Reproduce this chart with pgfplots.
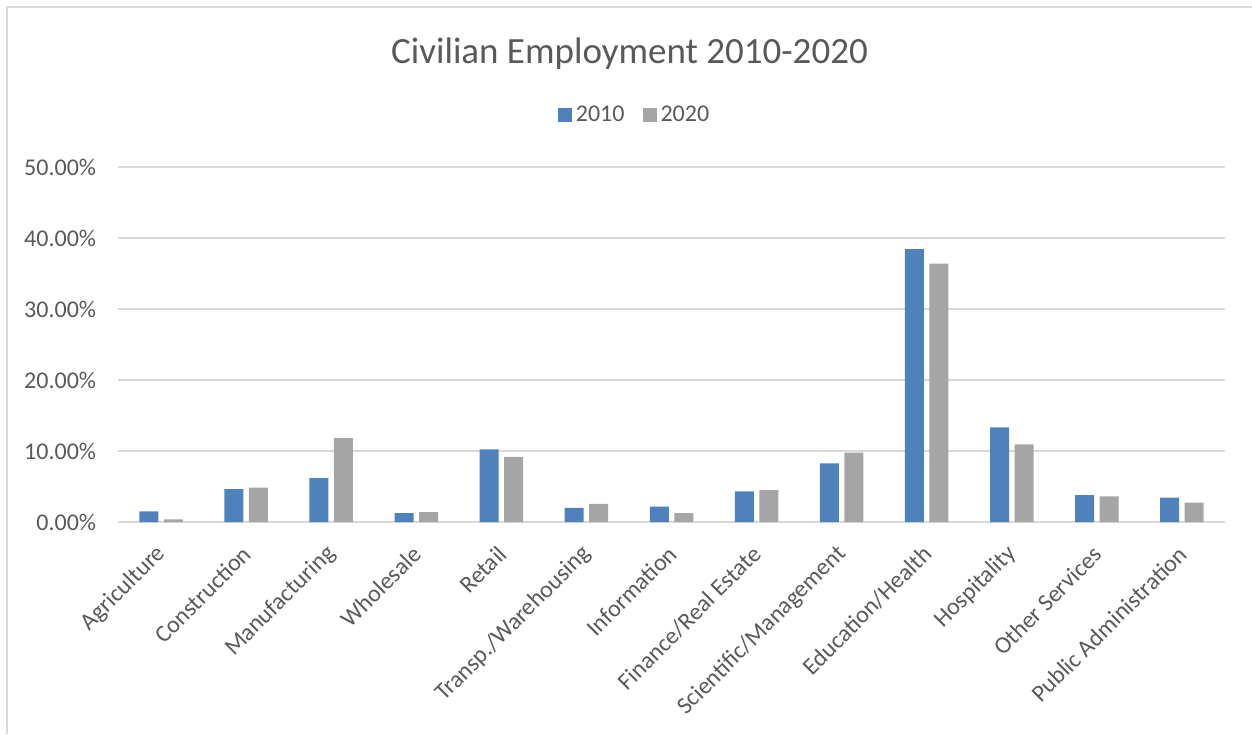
\documentclass[border=0pt]{standalone}
\usepackage{pgfplots}
\pgfplotsset{compat=1.18}
\usepackage{fontspec}
\setmainfont{Carlito}
\definecolor{blueA}{HTML}{4F81BD}
\definecolor{grayA}{HTML}{A5A5A5}
\definecolor{txt}{HTML}{595959}
\definecolor{gridc}{HTML}{D9D9D9}
\begin{document}
\begin{tikzpicture}[x=1pt,y=1pt]
\path[use as bounding box] (0,0) rectangle (626,-367);
\draw[gridc, line width=0.75pt] (3.5,-367) -- (3.5,-3.5) -- (626,-3.5);
\node[text=txt, font=\fontsize{18.5}{22}\selectfont, anchor=base] at (314.75,-31.5) {Civilian Employment 2010-2020};
\begin{axis}[
  at={(59.25pt,-261pt)}, anchor=south west,
  scale only axis, width=553pt, height=177.5pt,
  xmin=-0.5, xmax=12.5, ymin=0, ymax=50, enlargelimits=false,
  ybar=2.75pt, bar width=9.5pt,
  axis x line=bottom, axis y line=left,
  y axis line style={draw=none},
  x axis line style={draw=gridc, line width=0.75pt, -},
  ymajorgrids, grid style={draw=gridc, line width=0.75pt},
  major tick length=0pt,
  xtick={0,...,12},
  xticklabels={Agriculture,Construction,Manufacturing,Wholesale,Retail,Transp./Warehousing,Information,Finance/Real Estate,Scientific/Management,Education/Health,Hospitality,Other Services,Public Administration},
  ytick={0,10,20,30,40,50},
  yticklabels={0.00\%,10.00\%,20.00\%,30.00\%,40.00\%,50.00\%},
  yticklabel style={font=\fontsize{12}{14}\selectfont, text=txt, inner sep=0pt, xshift=-11pt},
  xticklabel style={font=\fontsize{12}{14}\selectfont, text=txt, inner sep=0pt, xshift=0.5pt, yshift=-14pt, rotate=45, anchor=east},
  legend style={at={(0.4675,1.1465)}, anchor=center, draw=none, fill=none, font=\fontsize{12}{14}\selectfont, text=txt, /tikz/every even column/.append style={column sep=7pt}},
  legend columns=2,
]
\addplot[fill=blueA, draw=none, legend image code/.code={\fill[blueA] (0pt,-3.5pt) rectangle (7pt,3.5pt);}] coordinates {
(0,1.49) (1,4.63) (2,6.17) (3,1.26) (4,10.24) (5,2.0) (6,2.15) (7,4.3) (8,8.27) (9,38.45) (10,13.33) (11,3.8) (12,3.42)};
\addlegendentry{2010}
\addplot[fill=grayA, draw=none, legend image code/.code={\fill[grayA] (0pt,-3.5pt) rectangle (7pt,3.5pt);}] coordinates {
(0,0.37) (1,4.86) (2,11.8) (3,1.40) (4,9.16) (5,2.57) (6,1.26) (7,4.49) (8,9.76) (9,36.4) (10,10.94) (11,3.62) (12,2.72)};
\addlegendentry{2020}
\end{axis}
\end{tikzpicture}
\end{document}
